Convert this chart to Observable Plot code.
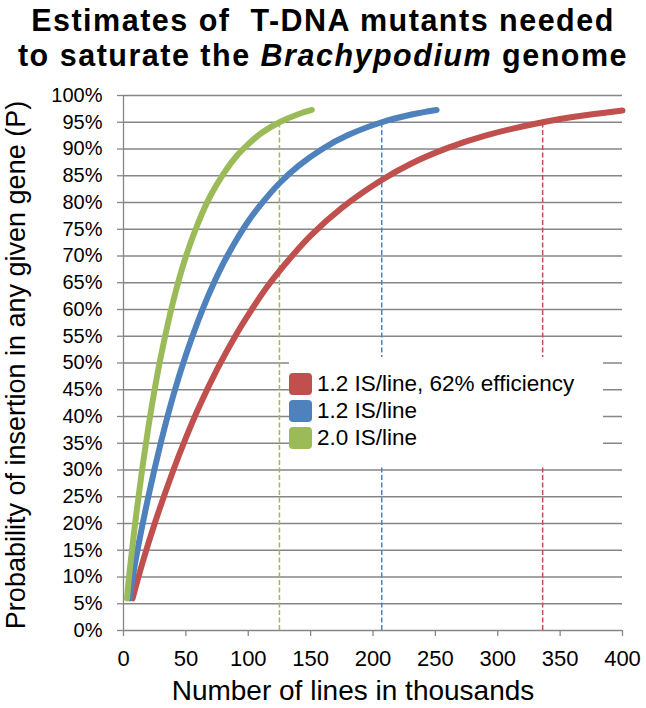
<!DOCTYPE html>
<html><head><meta charset="utf-8">
<script src="https://cdn.jsdelivr.net/npm/d3@7"></script>
<script src="https://cdn.jsdelivr.net/npm/@observablehq/plot@0.6"></script>
<style>
body{margin:0;background:#fff;font-family:"Liberation Sans",Arial,sans-serif;}
#wrap{position:relative;width:646px;height:708px;overflow:hidden;background:#fff;}
#title{height:80px;text-align:center;font-weight:bold;font-size:30.5px;line-height:34.5px;letter-spacing:1.5px;padding-top:3px;box-sizing:border-box;color:#000;white-space:nowrap;}
#legend{position:absolute;left:289px;top:357px;width:314px;height:109px;background:#fff;}
.row{position:absolute;left:0;height:22px;display:flex;align-items:center;font-size:22.5px;color:#000;white-space:nowrap;}
.sw{width:23px;height:22px;border-radius:4px;margin-right:5px;flex:none;}
</style></head>
<body>
<div id="wrap">
  <div id="title">Estimates of&nbsp; T-DNA mutants needed<br>to saturate the <i>Brachypodium</i> genome</div>
  <div id="chart"></div>
  <div id="legend"></div>
</div>
<script>
// ---- data ----
const seriesNames = ["1.2 IS/line, 62% efficiency", "1.2 IS/line", "2.0 IS/line"];
const seriesColors = ["#C0504D", "#4F81BD", "#9BBB59"];

// 2.0 IS/line (green): lines (thousands) and probability (%)
const greenN = [2.8, 5, 10, 15, 20, 25, 30, 40, 50, 60, 70, 80, 90, 100, 110, 125, 140, 151];
const greenP = [6, 11.3, 21.3, 30.2, 38.1, 45.1, 51.3, 61.7, 69.9, 76.3, 81.4, 85.3, 88.5, 90.9, 92.9, 95, 96.5, 97.3];

// 1.2 IS/line (blue)
const blueN = [4.8, 10, 20, 30, 40, 50, 60, 70, 80, 90, 100, 110, 125, 140, 160, 180, 207, 230, 251];
const blueP = [6, 13.5, 25.1, 35.2, 44, 51.5, 58, 63.7, 68.6, 72.8, 76.5, 79.6, 83.6, 86.8, 90.1, 92.6, 95, 96.4, 97.3];

// 1.2 IS/line, 62% efficiency (red)
const redN = [7.3, 15, 25, 40, 50, 60, 75, 90, 100, 115, 130, 150, 175, 207, 230, 260, 290, 336, 370, 400];
const redP = [6, 12.5, 20, 30, 36, 41.5, 48.8, 55.2, 59, 64.2, 68.6, 73.8, 79, 84.2, 87.2, 90.2, 92.5, 95, 96.3, 97.2];

// lines needed for 95% saturation (dashed markers)
const satN = [336, 207, 125];
const satP = [95, 95, 95];

const xTicks = [0, 50, 100, 150, 200, 250, 300, 350, 400];
const yTicks = [0, 5, 10, 15, 20, 25, 30, 35, 40, 45, 50, 55, 60, 65, 70, 75, 80, 85, 90, 95, 100];

const xTitle = "Number of lines in thousands";
const yTitle = "Probability of insertion in any given gene (P)";

// ---- build tables ----
const curves = [];
[[redN, redP], [blueN, blueP], [greenN, greenP]].forEach(([ns, ps], k) => {
  ns.forEach((n, i) => curves.push({series: seriesNames[k], n, p: ps[i]}));
});
const sat = satN.map((n, k) => ({series: seriesNames[k], n, p: satP[k]}));

const grey = "#868686";
const chart = Plot.plot({
  width: 646,
  height: 628,
  marginTop: 15,
  marginBottom: 78,
  marginLeft: 123,
  marginRight: 24,
  x: {domain: [0, 400]},
  y: {domain: [0, 100]},
  color: {domain: seriesNames, range: seriesColors},
  style: {fontFamily: "'Liberation Sans', Arial, sans-serif", background: "white", overflow: "visible", color: "black"},
  marks: [
    Plot.ruleY(yTicks.filter(d => d > 0), {x1: 0, x2: 400, stroke: grey, strokeWidth: 1.3}),
    Plot.axisY({ticks: yTicks, tickSize: 6, tickPadding: 15, tickFormat: d => d + "%", fontSize: 20, stroke: grey, strokeWidth: 1.3, fill: "black", label: null}),
    Plot.axisX({ticks: xTicks, tickSize: 6, tickPadding: 14, tickFormat: d => String(d), fontSize: 22, stroke: grey, strokeWidth: 1.3, fill: "black", label: null}),
    Plot.ruleX([0], {y1: 0, y2: 100, stroke: grey, strokeWidth: 1.3}),
    Plot.ruleY([0], {x1: 0, x2: 400, stroke: grey, strokeWidth: 1.3}),
    Plot.ruleX(sat, {x: "n", y1: 0, y2: "p", stroke: "series", strokeWidth: 1.5, strokeDasharray: "5,2.5"}),
    Plot.line(curves, {x: "n", y: "p", z: "series", stroke: "series", strokeWidth: 6, curve: "catmull-rom", strokeLinecap: "round"}),
    Plot.text([xTitle], {frameAnchor: "bottom", textAnchor: "middle", lineAnchor: "middle", dx: -20, dy: 61, fontSize: 28, fill: "black"}),
    Plot.text([yTitle], {frameAnchor: "left", textAnchor: "middle", lineAnchor: "middle", rotate: -90, dx: -107, dy: 2, fontSize: 27, fill: "black"})
  ]
});
document.getElementById("chart").appendChild(chart);

// legend (HTML overlay inside the plot area)
const legend = document.getElementById("legend");
const rowTops = [16, 43, 70];
seriesNames.forEach((name, k) => {
  const row = document.createElement("div");
  row.className = "row";
  row.style.top = rowTops[k] + "px";
  const sw = document.createElement("div");
  sw.className = "sw";
  sw.style.background = seriesColors[k];
  const t = document.createElement("span");
  t.textContent = name;
  row.appendChild(sw);
  row.appendChild(t);
  legend.appendChild(row);
});
</script>
</body></html>
